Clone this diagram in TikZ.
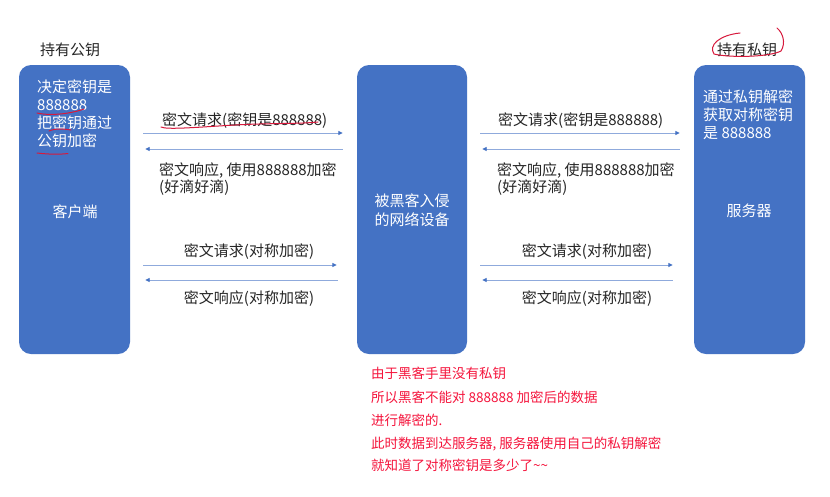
\documentclass[tikz,border=0pt]{standalone}
\usepackage{fontspec}
\setmainfont{Noto Sans CJK SC}
\usetikzlibrary{arrows.meta}
\definecolor{boxblue}{RGB}{68,114,196}
\definecolor{linblue}{RGB}{143,170,220}
\definecolor{headblue}{RGB}{68,114,196}
\definecolor{txtdark}{RGB}{38,38,38}
\definecolor{notered}{RGB}{245,20,60}
\definecolor{penred}{RGB}{215,25,60}
\begin{document}
\begin{tikzpicture}[x=1pt,y=-1pt,
 devbox/.style={draw=none,fill=boxblue,rounded corners=12pt,minimum width=111pt,minimum height=289pt,inner sep=0pt},
 wtxt/.style={text=white,font=\fontsize{15}{18}\selectfont,inner sep=0pt},
 dtxt/.style={text=txtdark,font=\fontsize{15}{18}\selectfont,inner sep=0pt},
 rtxt/.style={text=notered,font=\fontsize{13.5}{16}\selectfont,inner sep=0pt,anchor=base west},
 msg/.style={draw=linblue,line width=0.9pt,-{Triangle[length=4.5pt,width=4pt,color=headblue]}},
 pen/.style={draw=penred,line width=1pt,line cap=round}
]
\fill[white] (0,0) rectangle (830,496);
\useasboundingbox (0,0) rectangle (830,496);

% devices
\node[devbox] (client) at (74.5,209.5) {};
\node[devbox,minimum width=110pt] (mid) at (412,209.5) {};
\node[devbox] (server) at (749.5,209.5) {};

% titles
\node[dtxt] (tpub) at (70,50) {持有公钥};
\node[dtxt] (tpriv) at (747,50) {持有私钥};

% client text
\node[wtxt,anchor=base west] (c1) at (37,92) {决定密钥是};
\node[wtxt,anchor=base west] (c2) at (37,110) {888888};
\node[wtxt,anchor=base west] (c3) at (37,128) {把密钥通过};
\node[wtxt,anchor=base west] (c4) at (37,146) {公钥加密};
\node[wtxt] (cname) at (75,212) {客户端};

% middle text
\node[wtxt,align=center,font=\fontsize{15}{19}\selectfont] (mname) at (412,210) {被黑客入侵\\的网络设备};

% server text
\node[wtxt,anchor=base west] (s1) at (703,102.5) {通过私钥解密};
\node[wtxt,anchor=base west] (s2) at (703,120.5) {获取对称密钥};
\node[wtxt,anchor=base west] (s3) at (703,138.5) {是 888888};
\node[wtxt] (sname) at (749,211) {服务器};

% arrow levels
\coordinate (ya) at (0,133);
\coordinate (yb) at (0,149);
\coordinate (yc) at (0,265);
\coordinate (yd) at (0,280);

% left arrows
\draw[msg,shorten <=13pt,shorten >=14pt] (client.east |- ya) -- (mid.west |- ya);
\draw[msg,shorten <=14pt,shorten >=15pt] (mid.west |- yb) -- (client.east |- yb);
\draw[msg,shorten <=13pt,shorten >=20pt] (client.east |- yc) -- (mid.west |- yc);
\draw[msg,shorten <=19pt,shorten >=15pt] (mid.west |- yd) -- (client.east |- yd);

% right arrows
\draw[msg,shorten <=13pt,shorten >=14pt] (mid.east |- ya) -- (server.west |- ya);
\draw[msg,shorten <=14pt,shorten >=15pt] (server.west |- yb) -- (mid.east |- yb);
\draw[msg,shorten <=13pt,shorten >=21pt] (mid.east |- yc) -- (server.west |- yc);
\draw[msg,shorten <=21pt,shorten >=15pt] (server.west |- yd) -- (mid.east |- yd);

% left labels
\node[dtxt,anchor=base west] (l1) at (162,125.5) {密文请求(密钥是888888)};
\node[dtxt,anchor=base west] (l2) at (159,175.5) {密文响应, 使用888888加密};
\node[dtxt,anchor=base west] (l3) at (159,192.5) {(好滴好滴)};
\node[dtxt,anchor=base] (l4) at (249,256.5) {密文请求(对称加密)};
\node[dtxt,anchor=base] (l5) at (249,303.5) {密文响应(对称加密)};

% right labels
\node[dtxt,anchor=base west] (r1) at (498,125.5) {密文请求(密钥是888888)};
\node[dtxt,anchor=base west] (r2) at (497,175.5) {密文响应, 使用888888加密};
\node[dtxt,anchor=base west] (r3) at (497,192.5) {(好滴好滴)};
\node[dtxt,anchor=base] (r4) at (587,256.5) {密文请求(对称加密)};
\node[dtxt,anchor=base] (r5) at (587,303.5) {密文响应(对称加密)};

% red note
\node[rtxt] (n1) at (371,378) {由于黑客手里没有私钥};
\node[rtxt] (n2) at (371,402) {所以黑客不能对 888888 加密后的数据};
\node[rtxt] (n3) at (371,425) {进行解密的.};
\node[rtxt] (n4) at (371,448) {此时数据到达服务器, 服务器使用自己的私钥解密};
\node[rtxt] (n5) at (371,470) {就知道了对称密钥是多少了\textasciitilde\textasciitilde};

% hand-drawn red marks
\draw[pen] (37,113) .. controls (50,116) and (70,114) .. (84,109);
\draw[pen] (49,131) .. controls (56,128) and (65,129) .. (71,130);
\draw[pen] (37,153) .. controls (50,154.5) and (60,154.5) .. (68,153.5);
\draw[pen] (161,127) .. controls (167,130) and (200,127) .. (235,125) .. controls (270,123) and (300,124) .. (318,122);
\draw[pen] (740,33) .. controls (720,35) and (708,45) .. (714,54) .. controls (730,58) and (770,57) .. (781,51) .. controls (786,43) and (783,33) .. (777,28);
\end{tikzpicture}
\end{document}
